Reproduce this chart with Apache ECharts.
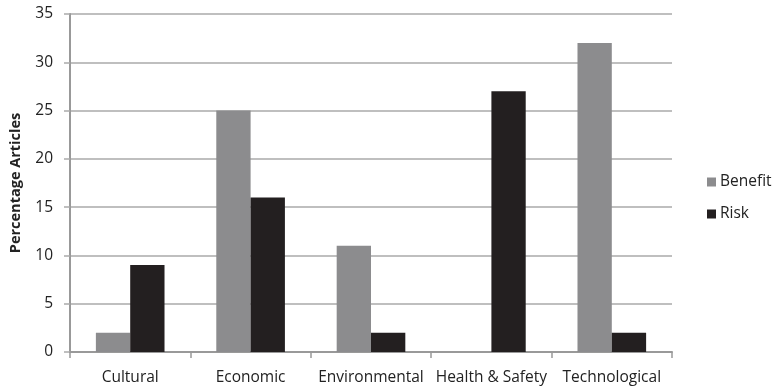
<!DOCTYPE html>
<html><head><meta charset="utf-8">
<script src="https://cdn.jsdelivr.net/npm/echarts@6/dist/echarts.min.js"></script>
<style>html,body{margin:0;padding:0;background:#fff}#c{width:773px;height:387px}</style>
</head><body><div id="c"></div>
<script>
const categories = ['Cultural', 'Economic', 'Environmental', 'Health & Safety', 'Technological'];
const benefit = [2, 25, 11, 0, 32];
const risk = [9, 16, 2, 27, 2];
const yTicks = { min: 0, max: 35, interval: 5 };

const font = 'Open Sans';
const chart = echarts.init(document.getElementById('c'));
chart.setOption({
  animation: false,
  textStyle: { fontFamily: font },
  grid: { left: 67, right: 101, top: 14, bottom: 35 },
  legend: {
    orient: 'vertical', left: 702, top: 169,
    itemWidth: 9, itemHeight: 9, itemGap: 16, icon: 'rect',
    textStyle: { fontFamily: font, fontSize: 15.5, color: '#222', padding: [0, 0, 0, -1] },
    data: ['Benefit', 'Risk']
  },
  xAxis: {
    type: 'category', data: categories,
    axisLine: { lineStyle: { color: '#999', width: 2 } },
    axisTick: { show: true, length: 6, lineStyle: { color: '#999', width: 1.5 } },
    axisLabel: { fontFamily: font, fontSize: 15.5, color: '#222', margin: 18, interval: 0 }
  },
  yAxis: {
    type: 'value', min: yTicks.min, max: yTicks.max, interval: yTicks.interval,
    name: 'Percentage Articles', nameLocation: 'middle', nameGap: 47,
    nameTextStyle: { fontFamily: font, fontSize: 14.5, fontWeight: 'bold', color: '#222' },
    axisLine: { show: true, lineStyle: { color: '#999', width: 2 } },
    axisTick: { show: true, length: 6, lineStyle: { color: '#aaa', width: 1.5 } },
    axisLabel: { fontFamily: font, fontSize: 15.5, color: '#222', margin: 17 },
    splitLine: { lineStyle: { color: '#aaa', width: 1.5 } }
  },
  series: [
    { name: 'Benefit', type: 'bar', data: benefit, barGap: '0%', barCategoryGap: '43%',
      itemStyle: { color: '#8c8c8e' } },
    { name: 'Risk', type: 'bar', data: risk, barGap: '0%', barCategoryGap: '43%',
      itemStyle: { color: '#231f20' } }
  ]
});
</script></body></html>
